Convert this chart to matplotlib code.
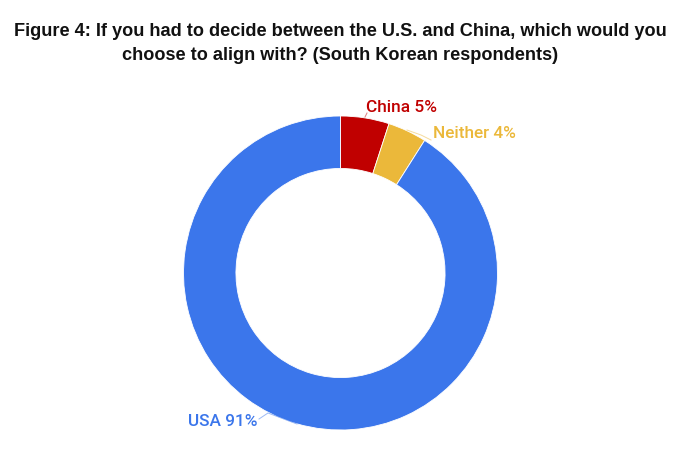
import matplotlib
matplotlib.use("Agg")
import matplotlib.pyplot as plt

categories = ["China", "Neither", "USA"]
values = [5, 4, 91]
colors = ["#C00000", "#EBB83A", "#3B76EB"]
label_texts = ["China 5%", "Neither 4%", "USA 91%"]

W, H = 680, 449
fig = plt.figure(figsize=(W / 100, H / 100), dpi=100)
fig.patch.set_facecolor("white")

cx, cy, R = 340.5, 273.0, 157.0
ax = fig.add_axes([(cx - R) / W, (H - cy - R) / H, 2 * R / W, 2 * R / H])
ax.pie(values, colors=colors, startangle=90, counterclock=False, radius=1.0,
       wedgeprops=dict(width=0.334, edgecolor="white", linewidth=0.6))
ax.set_xlim(-1, 1)
ax.set_ylim(-1, 1)
ax.set_aspect("equal")
ax.axis("off")


def px(x, y):
    return ((x - cx) / R, (cy - y) / R)


# leader lines
line_pts = [
    [(365, 117), (367, 113)],
    [(407, 130), (421, 135), (431, 140)],
    [(297, 424), (268, 413), (259, 419)],
]
for pts, c in zip(line_pts, colors):
    xs, ys = zip(*[px(*p) for p in pts])
    ax.plot(xs, ys, color=c, lw=0.7, alpha=0.5, clip_on=False)

label_pos = [(366, 107, "left"), (433, 134, "left"), (257, 422, "right")]
for (x, y, ha), t, c in zip(label_pos, label_texts, colors):
    X, Y = px(x, y)
    ax.text(X, Y, t, color=c, fontsize=12.4, family="Roboto", fontweight="medium",
            ha=ha, va="center", clip_on=False)

fig.text(0.5, 1 - 32 / H,
         "Figure 4: If you had to decide between the U.S. and China, which would you",
         ha="center", va="center", fontsize=13.1, fontweight="bold",
         family="Liberation Sans", color="#111111")
fig.text(0.5, 1 - 55 / H,
         "choose to align with? (South Korean respondents)",
         ha="center", va="center", fontsize=13.1, fontweight="bold",
         family="Liberation Sans", color="#111111")

fig.savefig("out.png", dpi=100, facecolor="white")
